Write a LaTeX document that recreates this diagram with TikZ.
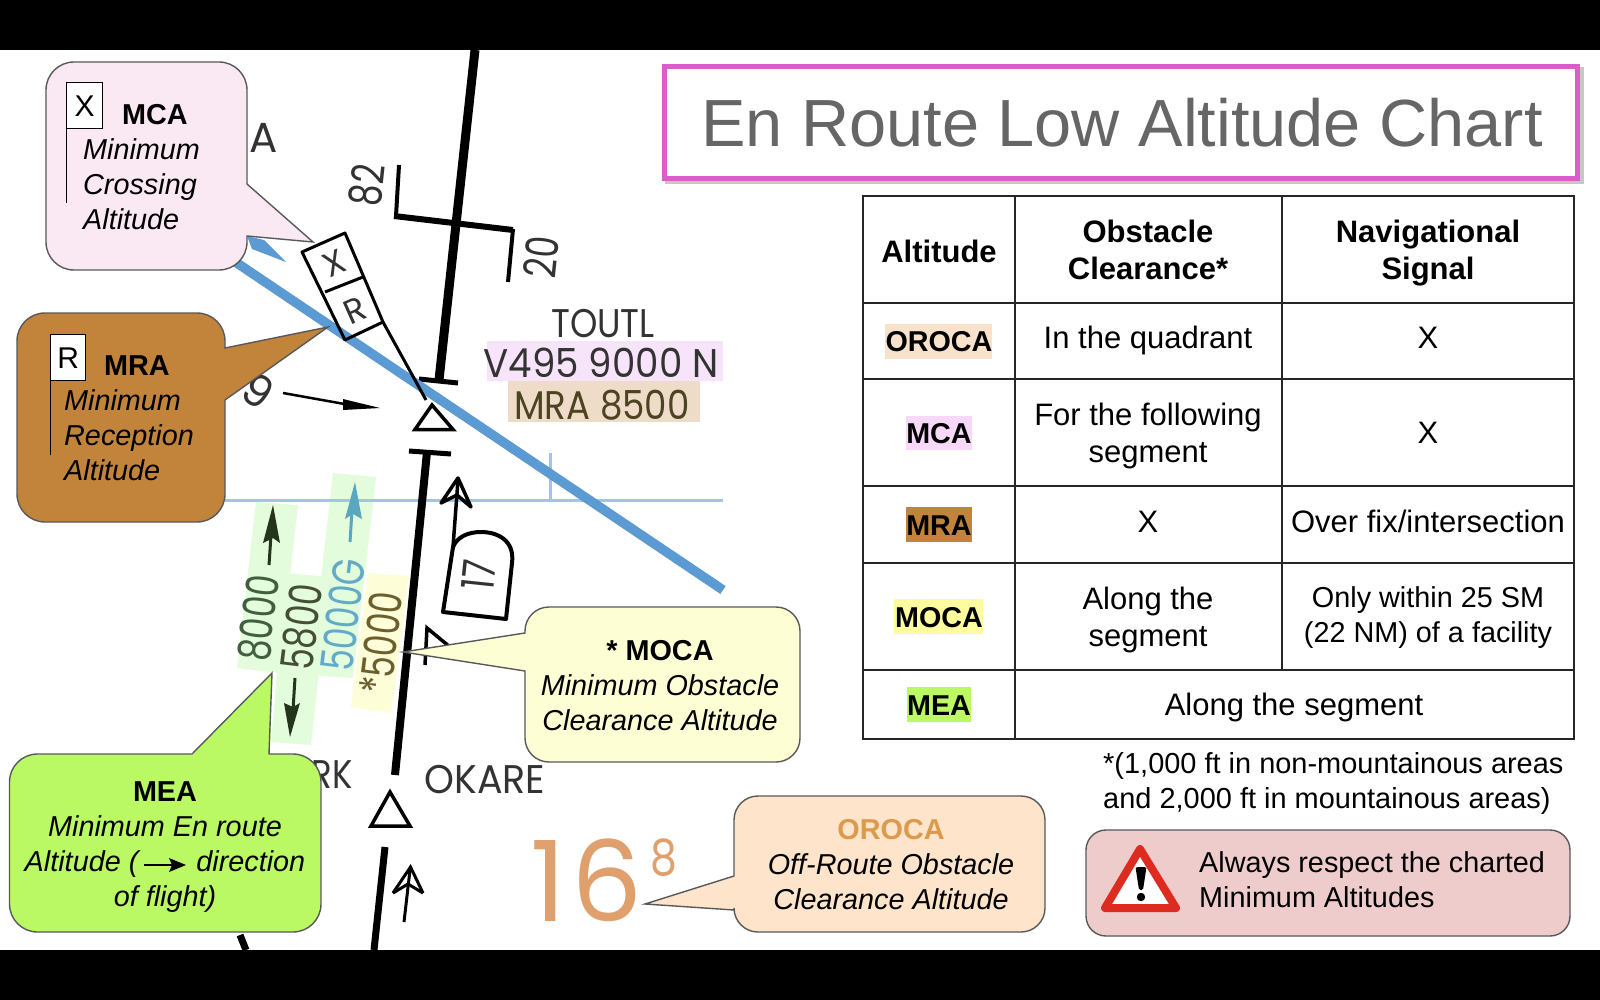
\documentclass[tikz,border=0pt]{standalone}
\usepackage{fontspec}
\setmainfont{Liberation Sans}
\newfontfamily\chartf{Poppins}
\definecolor{chartink}{HTML}{333333}
\definecolor{chartblue}{HTML}{5B9AD2}
\definecolor{chartlblue}{HTML}{A3C4E8}
\definecolor{hlgreen}{HTML}{E3FCDC}
\definecolor{hlyellow}{HTML}{FDFDD8}
\definecolor{hlpink}{HTML}{F8E4FA}
\definecolor{hltan}{HTML}{EFDCC8}
\definecolor{mcafill}{HTML}{FAE8F2}
\definecolor{mrafill}{HTML}{C1843A}
\definecolor{orocafill}{HTML}{FDE4CB}
\definecolor{mocafill}{HTML}{FEFED4}
\definecolor{meafill}{HTML}{BBF964}
\definecolor{titleedge}{HTML}{DB5CCB}
\definecolor{warnfill}{HTML}{EECCCC}
\definecolor{warnred}{HTML}{DD2C1F}
\definecolor{txtgreen}{HTML}{3F5F3F}
\definecolor{txtolive}{HTML}{454F36}
\definecolor{txtteal}{HTML}{63AAC8}
\definecolor{txtbrown}{HTML}{6B5F30}
\definecolor{arrdark}{HTML}{25351C}
\definecolor{arrteal}{HTML}{5AA7C2}
\definecolor{numorange}{HTML}{E0A06E}
\definecolor{orocatxt}{HTML}{DB9A4C}
\definecolor{hlmca}{HTML}{F8D8F8}
\definecolor{hlmoca}{HTML}{FDFDA0}
\definecolor{hloroca}{HTML}{F8E2CC}
\tikzset{
  bub/.style={draw=black!65,line width=1.4pt,line join=miter},
  lbl/.style={anchor=base,inner sep=0pt,font=\fontsize{28.8}{35}\selectfont,align=center},
  lblw/.style={anchor=base west,inner sep=0pt,font=\fontsize{28.8}{35}\selectfont,align=left},
  cell/.style={anchor=base,inner sep=0pt,font=\fontsize{31}{37}\selectfont,align=center},
  cellb/.style={anchor=base,inner sep=0pt,font=\fontsize{31}{37}\selectfont\bfseries,align=center},
  rowb/.style={anchor=base,inner sep=0pt,font=\fontsize{28.7}{35}\selectfont\bfseries},
  chart/.style={inner sep=0pt,text=chartink,font=\fontsize{40}{44}\selectfont\chartf},
  chartrot/.style={inner sep=0pt,text=chartink,font=\fontsize{45}{48}\selectfont\chartf,rotate=#1,xscale=.76},
  flagbox/.style={draw=black,fill=white,line width=1.4pt,minimum width=35pt,minimum height=46pt,inner sep=0pt,font=\fontsize{30}{32}\selectfont},
  ink/.style={draw=black,line cap=butt,line join=miter},
}
\begin{document}
\begin{tikzpicture}[x=1pt,y=-1pt]
\useasboundingbox (0,0) rectangle (1600,1000);
\fill[white] (0,0) rectangle (1600,1000);
% ---- chart highlights
\fill[hlgreen] (256,502) -- (298,505) -- (279,673) -- (237,668) -- cycle;
\fill[hlgreen] (286,573) -- (329,577) -- (311,745) -- (271,742) -- cycle;
\fill[hlgreen] (333,473) -- (376,477) -- (353,678) -- (310,675) -- cycle;
\fill[hlyellow] (368,573) -- (409,576) -- (391,713) -- (351,707) -- cycle;
\fill[hlpink] (487,341) rectangle (723,381);
\fill[hltan] (508,381) rectangle (700,422);
% ---- thin blue lines
\draw[chartlblue,line width=3pt] (225,500) -- (723,500);
\draw[chartlblue,line width=2.5pt] (550.5,453) -- (550.5,500);
% ---- black route
\draw[ink,line width=9pt] (475,50) -- (439,380);
\draw[ink,line width=5pt] (419,379) -- (458,383);
\draw[ink,line width=3.5pt,fill=white] (432,405) -- (415,429.5) -- (453,429.5) -- cycle;
\draw[ink,line width=5pt] (409,451) -- (451,454);
\draw[ink,line width=8pt] (427,452) -- (395,775);
\draw[ink,line width=3.5pt] (390,792) -- (371,826) -- (410,826) -- cycle;
\draw[ink,line width=7pt] (385,847) -- (374,950);
\draw[ink,line width=7pt] (240,935) -- (246,950);
% ---- holding bar
\draw[ink,line width=4pt] (399,165) -- (396,216);
\draw[ink,line width=6pt] (394,216) -- (513,230);
\draw[ink,line width=4pt] (513,229) -- (508,282);
% ---- blue route
\draw[chartblue,line width=9.5pt] (225,255) -- (723,590);
\fill[chartblue] (247,236) -- (264,240) -- (286,262) -- (252,249) -- cycle;
% ---- X / R flag on chart
\draw[ink,line width=3pt,line join=round] (345,233) -- (302,252) -- (345,340) -- (383,322) -- cycle;
\draw[ink,line width=3pt] (325,292) -- (363,277);
\draw[ink,line width=3pt] (383,322) -- (426,400);
\node[chart,rotate=24,font=\fontsize{34}{36}\selectfont\chartf] (chartx) at (334,263) {X};
\node[chart,rotate=24,font=\fontsize{34}{36}\selectfont\chartf] (chartr) at (355,310) {R};
% ---- chart labels
\node[chartrot=84] (lb82) at (367,185) {82};
\node[chartrot=84] (lb20) at (541,257) {20};
\node[chart,rotate=-34,font=\fontsize{44}{46}\selectfont\chartf] (lb9) at (258,391) {9};
\node[chart,anchor=base east,font=\fontsize{42}{44}\selectfont\chartf] (lbsa) at (278,153) {SA};
\node[chart,anchor=base,xscale=.87] (toutl) at (603,337) {TOUTL};
\node[chart,anchor=base,xscale=.93,text=chartink] (vair) at (601,377) {V495 9000 N};
\node[chart,anchor=base,xscale=.89,text=txtbrown!70!black] (mrat) at (602,419) {MRA 8500};
\node[chart,anchor=base,xscale=.95] (okare) at (485,793) {OKARE};
\node[chart,anchor=base east,xscale=.85] (rk) at (353,788) {RK};
\node[chartrot=83,text=txtgreen] (a8000) at (258.5,618) {8000};
\node[chartrot=83,text=txtolive] (a5800) at (301.5,627) {5800};
\node[chartrot=83,text=txtteal] (a5000g) at (343,615) {5000G};
\node[chartrot=83,text=txtbrown] (a5000) at (381,643) {*5000};
% ---- chart arrows
\draw[ink,line width=2.5pt] (283,393) -- (350,405);
\fill[black] (343,399) -- (380,408) -- (343,410) -- cycle;
\draw[arrdark,line width=3pt] (269,565) -- (271,535);
\fill[arrdark] (273,505) -- (280,543) -- (273,538) -- (263,543) -- cycle;
\draw[arrteal,line width=3pt] (350,542) -- (352,510);
\fill[arrteal] (355,482) -- (362,519) -- (353,514) -- (345,519) -- cycle;
\draw[arrdark,line width=3pt] (295,678) -- (293,710);
\fill[arrdark] (290,737) -- (284,703) -- (293,707) -- (300,703) -- cycle;
\draw[ink,line width=3.5pt,line join=round] (453,547) -- (458,480);
\draw[ink,line width=3.5pt,line join=round] (441,503) -- (458,478) -- (471,507) -- (457,495) -- cycle;
\draw[ink,line width=3pt] (404,922) -- (410,870);
\draw[ink,line width=3pt] (393,893) -- (410.5,867) -- (423,893);
\draw[ink,line width=3pt] (393,893) -- (408,884) -- (423,893);
% shield 17
\draw[ink,line width=4pt,fill=white,line join=round] (443,612) -- (506,619) -- (512,563)
  .. controls (515,540) and (497,532) .. (481,532) .. controls (468,532) and (457,537) .. (453,547) -- cycle;
\node[chartrot=84] (lb17) at (479,575) {17};
\draw[ink,line width=3.5pt] (425,665) -- (427,628) -- (456,652);
% big number
\node[inner sep=0pt,anchor=base west,text=numorange,font=\fontsize{112}{120}\selectfont\chartf] (oro16) at (530,921) {1\hspace{6pt}6};
\node[inner sep=0pt,anchor=base west,text=numorange,font=\fontsize{50}{56}\selectfont\chartf,xscale=.85] (oro8) at (650,875) {8};
% ---- bubbles
\draw[bub,fill=mcafill] (150,62) [rounded corners=28pt] -- (247,62) [sharp corners] -- (247,184) -- (313,242) -- (247,236)
  [rounded corners=28pt] -- (247,270) -- (46,270) -- (46,62) [sharp corners] -- cycle;
\draw[bub,fill=mrafill] (120,313) [rounded corners=28pt] -- (225,313) [sharp corners] -- (225,348) -- (328,327) -- (225,400)
  [rounded corners=28pt] -- (225,522) -- (17,522) -- (17,313) [sharp corners] -- cycle;
\draw[bub,fill=mocafill] (660,607) [rounded corners=24pt] -- (525,607) [sharp corners] -- (525,633) -- (403,652) -- (525,671)
  [rounded corners=24pt] -- (525,762) -- (800,762) -- (800,607) [sharp corners] -- cycle;
\draw[bub,fill=meafill] (100,754) -- (192,754) -- (272,673) -- (269,754)
  [rounded corners=28pt] -- (321,754) -- (321,932) -- (9.5,932) -- (9.5,754) [sharp corners] -- cycle;
\draw[bub,fill=orocafill] (890,796) [rounded corners=24pt] -- (734,796) [sharp corners] -- (734,876) -- (645,904) -- (734,910)
  [rounded corners=24pt] -- (734,932) -- (1045,932) -- (1045,796) [sharp corners] -- cycle;
% bubble contents: MCA
\draw[black,line width=1.4pt] (66.5,128) -- (66.5,203);
\node[flagbox,anchor=north west,minimum width=36pt] (mcax) at (66,82) {X};
\node[lblw,font=\fontsize{28.8}{35}\selectfont\bfseries] (mcah) at (122,125) {MCA};
\node[lblw,font=\fontsize{28.8}{35}\selectfont\itshape] (mcat) at (83,230) {Minimum\\Crossing\\Altitude};
% MRA
\draw[black,line width=1.4pt] (50.5,380) -- (50.5,455);
\node[flagbox,anchor=north west] (mrar) at (50,334) {R};
\node[lblw,font=\fontsize{28.8}{35}\selectfont\bfseries] (mrah) at (104,375) {MRA};
\node[lblw,font=\fontsize{28.8}{35}\selectfont\itshape] (mrat2) at (64,480) {Minimum\\Reception\\Altitude};
% MOCA
\node[lbl,font=\fontsize{28.8}{35}\selectfont\bfseries] (mocah) at (660,660) {* MOCA};
\node[lbl,font=\fontsize{28.8}{35}\selectfont\itshape] (mocat) at (660,730) {Minimum Obstacle\\Clearance Altitude};
% MEA
\node[lbl,font=\fontsize{28.8}{35}\selectfont\bfseries] (meah) at (165,801) {MEA};
\node[lbl,font=\fontsize{28.8}{35}\selectfont\itshape] (meat) at (165,906.5) {Minimum En route\\Altitude (\hspace{58pt}direction\\of flight)};
\coordinate (meaa) at (144,865);
\coordinate (meab) at (172,865);
\draw[black,line width=1.6pt] (meaa) -- (meab);
\fill[black] (169,858) -- (186,865) -- (169,872) -- (172,865) -- cycle;
% OROCA
\node[lbl,font=\fontsize{28.8}{35}\selectfont\bfseries,text=orocatxt] (orocah) at (891,839) {OROCA};
\node[lbl,font=\fontsize{28.8}{35}\selectfont\itshape] (orocat) at (891,909) {Off-Route Obstacle\\Clearance Altitude};
% ---- title
\fill[black!22] (665,67) rectangle (1584,184);
\node[draw=titleedge,fill=white,line width=5pt,minimum width=913pt,minimum height=112pt,inner sep=0pt,anchor=north west] (titlebox) at (662,64) {};
\node[anchor=base,inner sep=0pt,text=black!60,font=\fontsize{66.7}{70}\selectfont] (titletxt) at (1122,147) {En Route Low Altitude Chart};
% ---- table
\fill[hloroca] (885,324) rectangle (992,359);
\fill[hlmca] (906,416) rectangle (971.5,450);
\fill[mrafill] (906,507) rectangle (971.5,542);
\fill[hlmoca] (894,599) rectangle (982.5,634);
\fill[meafill] (906.5,687) rectangle (971,722);
\draw[black!85,line width=2pt] (863,196) rectangle (1574,739);
\draw[black!85,line width=2pt] (863,303) -- (1574,303) (863,379) -- (1574,379) (863,486) -- (1574,486) (863,563) -- (1574,563) (863,670) -- (1574,670);
\draw[black!85,line width=2pt] (1014.5,196) -- (1014.5,739) (1281.5,196) -- (1281.5,670);
\node[cellb] (h1) at (939,262) {Altitude};
\node[cellb] (h2) at (1148,279.5) {Obstacle\\Clearance*};
\node[cellb] (h3) at (1428,279.5) {Navigational\\Signal};
\node[rowb] (r1) at (939,351) {OROCA};
\node[rowb] (r2) at (939,443) {MCA};
\node[rowb] (r3) at (939,535) {MRA};
\node[rowb] (r4) at (939,627) {MOCA};
\node[rowb] (r5) at (939,715) {MEA};
\node[cell] (c12) at (1148,348) {In the quadrant};
\node[cell] (c13) at (1428,348) {X};
\node[cell] (c22) at (1148,462.5) {For the following\\segment};
\node[cell] (c23) at (1428,443) {X};
\node[cell] (c32) at (1148,532) {X};
\node[cell] (c33) at (1428,532) {Over fix/intersection};
\node[cell] (c42) at (1148,646.5) {Along the\\segment};
\node[lbl] (c43) at (1428,642) {Only within 25 SM\\(22 NM) of a facility};
\node[cell] (c52) at (1294,715) {Along the segment};
% ---- footnote
\node[lblw,font=\fontsize{28.95}{35}\selectfont] (foot) at (1103,808) {*(1,000 ft in non-mountainous areas\\and 2,000 ft in mountainous areas)};
% ---- warning
\draw[bub,fill=warnfill,rounded corners=20pt] (1086,830) rectangle (1570,936);
\draw[warnred,fill=white,line width=8pt,line join=round] (1140,849) -- (1105,908) -- (1176,908) -- cycle;
\fill[black,rounded corners=1.5pt] (1135.5,867) -- (1146.5,867) -- (1143,890) -- (1139,890) -- cycle;
\fill[black] (1141,897) circle (4.2pt);
\node[lblw] (warn) at (1199,907.5) {Always respect the charted\\Minimum Altitudes};
% ---- black bands
\fill[black] (0,0) rectangle (1600,50);
\fill[black] (0,950) rectangle (1600,1000);
\end{tikzpicture}
\end{document}
